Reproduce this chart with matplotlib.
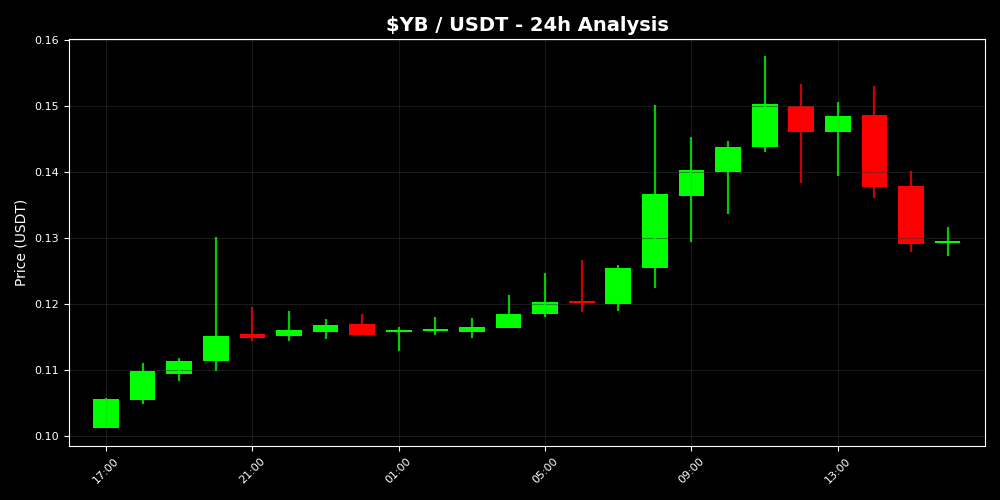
import numpy as np
import pandas as pd
import matplotlib
matplotlib.use("Agg")
import matplotlib.pyplot as plt

times = pd.date_range("2024-01-01 17:00", periods=24, freq="h")
opens = [0.1013, 0.1055, 0.1094, 0.1114, 0.1155, 0.1152, 0.1158, 0.1170,
         0.1158, 0.1159, 0.1157, 0.1164, 0.1185, 0.1202, 0.1200, 0.1255,
         0.1364, 0.1400, 0.1438, 0.1500, 0.1460, 0.1486, 0.1379, 0.1293]
highs = [0.1057, 0.1111, 0.1119, 0.1302, 0.1196, 0.1189, 0.1177, 0.1185,
         0.1166, 0.1180, 0.1179, 0.1213, 0.1247, 0.1267, 0.1259, 0.1502,
         0.1453, 0.1447, 0.1576, 0.1533, 0.1506, 0.1530, 0.1402, 0.1317]
lows = [0.1013, 0.1049, 0.1084, 0.1099, 0.1144, 0.1144, 0.1147, 0.1153,
        0.1129, 0.1153, 0.1149, 0.1164, 0.1181, 0.1188, 0.1190, 0.1225,
        0.1294, 0.1337, 0.1431, 0.1384, 0.1394, 0.1360, 0.1279, 0.1273]
closes = [0.1056, 0.1099, 0.1113, 0.1152, 0.1149, 0.1161, 0.1169, 0.1153,
          0.1159, 0.1160, 0.1166, 0.1185, 0.1203, 0.1201, 0.1255, 0.1367,
          0.1403, 0.1438, 0.1503, 0.1461, 0.1485, 0.1378, 0.1291, 0.1294]

fig, ax = plt.subplots(figsize=(10, 5), dpi=100)
fig.patch.set_facecolor("black")
ax.set_facecolor("black")
fig.subplots_adjust(left=0.069, right=0.985, top=0.922, bottom=0.108)

x = np.arange(len(times))
for xi, o, h, l, c in zip(x, opens, highs, lows, closes):
    col = "#00ff00" if c >= o else "#ff0000"
    ax.vlines(xi, l, h, color=col, linewidth=1.6, alpha=0.8)
    ax.bar(xi, max(abs(c - o), 0.0003), 0.7, bottom=min(o, c), color=col)

ax.set_xlim(-1.01, 24.02)
ax.set_ylim(0.0985, 0.16015)
ax.set_xticks(x[::4])
ax.set_xticklabels(times[::4].strftime("%H:%M"), rotation=45)

ax.grid(True, color="#333333", alpha=0.5, linewidth=0.8)
ax.tick_params(colors="white", labelsize=8)
for s in ax.spines.values():
    s.set_color("white")
ax.set_title("\\$YB / USDT - 24h Analysis", color="white", fontsize=14, fontweight="bold")
ax.set_ylabel("Price (USDT)", color="white", fontsize=10)

plt.savefig("out.png", facecolor=fig.get_facecolor())
